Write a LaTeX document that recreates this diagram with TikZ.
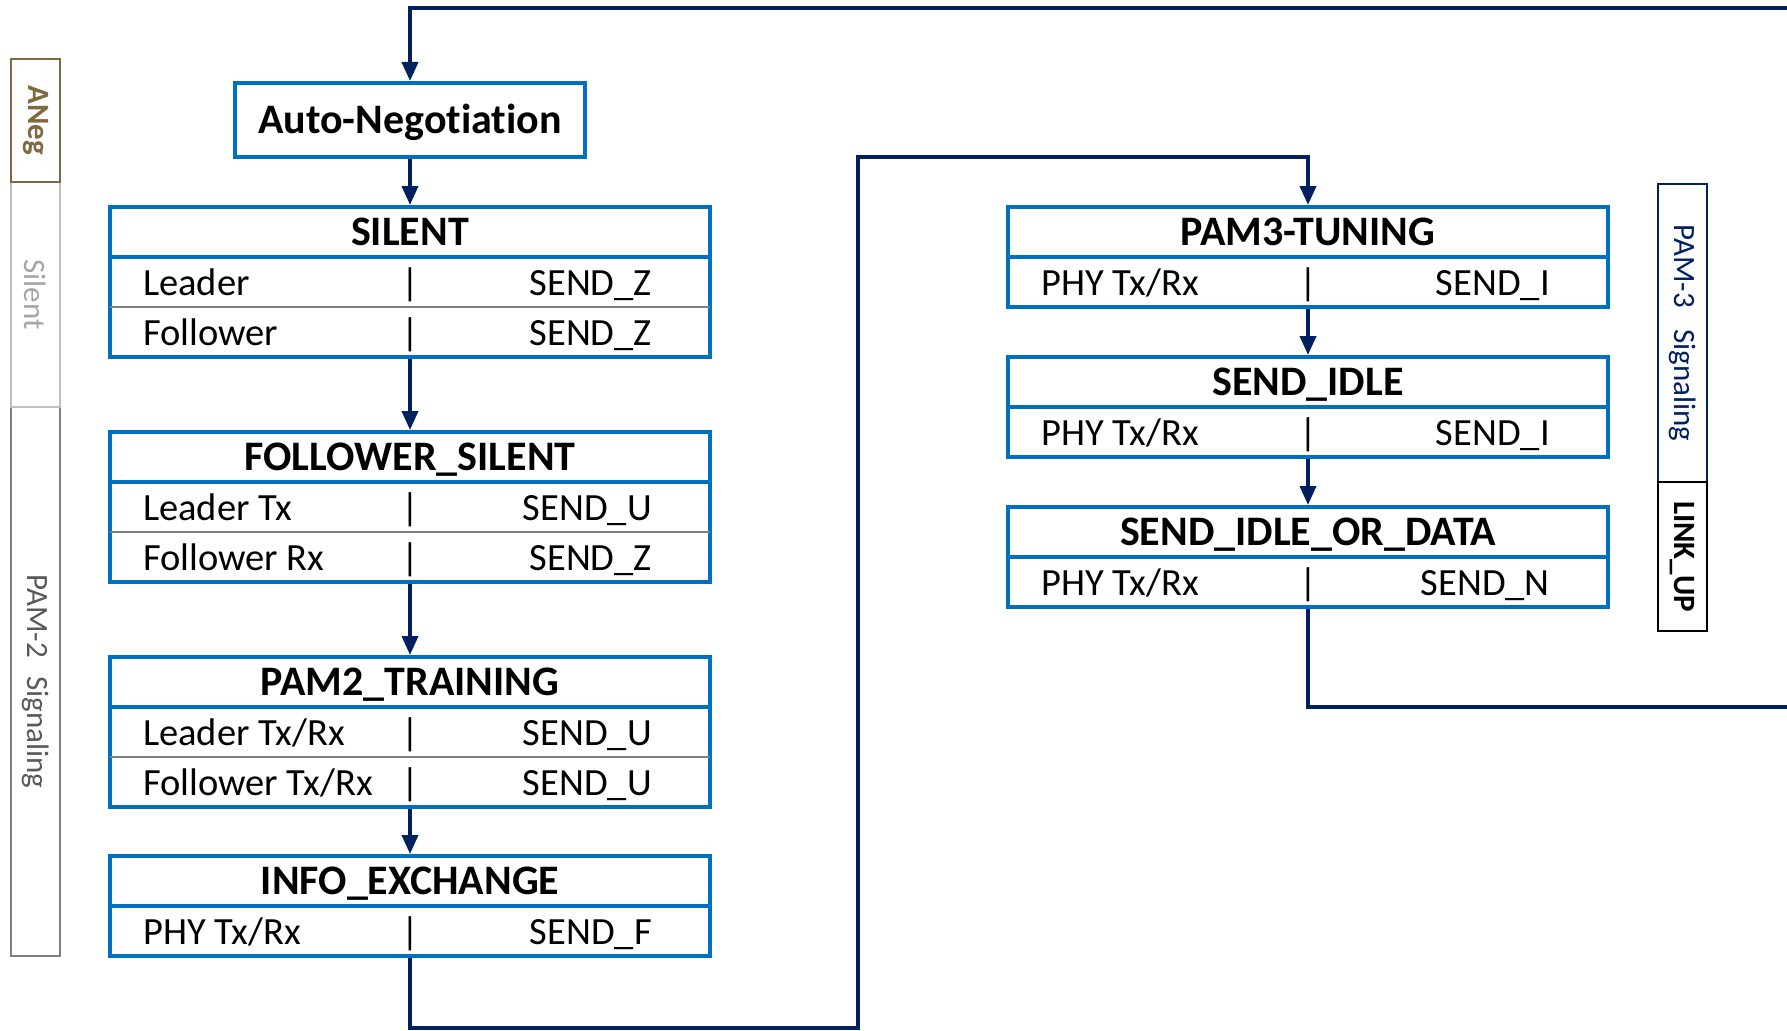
\documentclass[tikz,border=0pt]{standalone}
\usepackage{fontspec}
\setmainfont{Carlito}[Ligatures=NoCommon]
\usetikzlibrary{arrows.meta}
\definecolor{boxblue}{HTML}{0070C0}
\definecolor{navy}{HTML}{002060}
\definecolor{anegbrown}{HTML}{7F6A40}
\definecolor{silgray}{HTML}{A6A6A6}
\definecolor{silborder}{HTML}{BFBFBF}
\definecolor{pamtwotext}{HTML}{595959}
\definecolor{pamtwoborder}{HTML}{7F7F7F}
\newcommand\rowfont{\fontsize{38.5}{44}\selectfont}
\newcommand\hdrfont{\fontsize{42}{48}\selectfont\bfseries}
\newcommand\sidefont{\fontsize{31}{36}\selectfont}
\newcommand\srow[5]{%
  \node[rowtxt] (#1l) at (#2-267,#3) {#4};
  \node[septxt] (#1s) at (#2,#3) {|};
  \node[valtxt] (#1v) at (#2+242,#3) {#5};}
\begin{document}
\begin{tikzpicture}[x=1pt,y=-1pt,
  statebox/.style={draw=boxblue, line width=4pt, minimum width=600pt, inner sep=0pt},
  hdrline/.style={draw=boxblue, line width=4pt},
  rowline/.style={draw=pamtwoborder, line width=2pt},
  title/.style={font=\hdrfont, anchor=base, inner sep=0pt},
  rowtxt/.style={font=\rowfont, anchor=base west, inner sep=0pt},
  valtxt/.style={font=\rowfont, anchor=base east, inner sep=0pt},
  septxt/.style={font=\rowfont, anchor=base, inner sep=0pt},
  conn/.style={draw=navy, line width=3.8pt, -{Triangle[length=19pt,width=16pt]}},
  link/.style={draw=navy, line width=3.8pt},
  sidebar/.style={minimum width=49pt, line width=2pt, inner sep=0pt},
  sidetxt/.style={font=\sidefont, rotate=-90, inner sep=0pt}
]
\useasboundingbox (0,0) rectangle (1787,1030);

% ---- left column ----
\node[statebox, minimum width=350pt, minimum height=74pt] (aneg) at (410,120) {};
\node[title] (anegt) at (410,134) {Auto-Negotiation};

\node[statebox, minimum height=150pt] (silent) at (410,282) {};
\draw[hdrline] (110,257) -- (710,257);
\draw[rowline] (110,307) -- (710,307);
\node[title] (silentt) at (410,245.5) {SILENT};
\srow{silA}{410}{295}{Leader}{SEND\_Z}
\srow{silB}{410}{345}{Follower}{SEND\_Z}

\node[statebox, minimum height=150pt] (fsil) at (410,507) {};
\draw[hdrline] (110,482) -- (710,482);
\draw[rowline] (110,532) -- (710,532);
\node[title] (fsilt) at (410,470.5) {FOLLOWER\_SILENT};
\srow{fsA}{410}{520}{Leader Tx}{SEND\_U}
\srow{fsB}{410}{570}{Follower Rx}{SEND\_Z}

\node[statebox, minimum height=150pt] (pamtwo) at (410,732) {};
\draw[hdrline] (110,707) -- (710,707);
\draw[rowline] (110,757) -- (710,757);
\node[title] (pamtwot) at (410,695.5) {PAM2\_TRAINING};
\srow{ptA}{410}{745}{Leader Tx/Rx}{SEND\_U}
\srow{ptB}{410}{795}{Follower Tx/Rx}{SEND\_U}

\node[statebox, minimum height=100pt] (info) at (410,906) {};
\draw[hdrline] (110,906) -- (710,906);
\node[title] (infot) at (410,894.5) {INFO\_EXCHANGE};
\srow{ieA}{410}{944}{PHY Tx/Rx}{SEND\_F}

% ---- right column ----
\node[statebox, minimum height=100pt] (pamthree) at (1308,257) {};
\draw[hdrline] (1008,257) -- (1608,257);
\node[title] (pamthreet) at (1308,245.5) {PAM3-TUNING};
\srow{p3A}{1308}{295}{PHY Tx/Rx}{SEND\_I}

\node[statebox, minimum height=100pt] (sidle) at (1308,407) {};
\draw[hdrline] (1008,407) -- (1608,407);
\node[title] (sidlet) at (1308,395.5) {SEND\_IDLE};
\srow{siA}{1308}{445}{PHY Tx/Rx}{SEND\_I}

\node[statebox, minimum height=100pt] (siod) at (1308,557) {};
\draw[hdrline] (1008,557) -- (1608,557);
\node[title] (siodt) at (1308,545.5) {SEND\_IDLE\_OR\_DATA};
\srow{sdA}{1308}{595}{PHY Tx/Rx}{SEND\_N}

% ---- connectors ----
\coordinate (topR) at (1800,8);
\coordinate (botL) at (858,1028);
\coordinate (upR) at (858,157);
\coordinate (outR) at (1800,707);

\draw[conn] (topR) -| (aneg.north);
\draw[conn] (aneg.south) -- (silent.north);
\draw[conn] (silent.south) -- (fsil.north);
\draw[conn] (fsil.south) -- (pamtwo.north);
\draw[conn] (pamtwo.south) -- (info.north);
\draw[conn] (info.south) |- (botL) -- (upR) -| (pamthree.north);
\draw[conn] (pamthree.south) -- (sidle.north);
\draw[conn] (sidle.south) -- (siod.north);
\draw[link] (siod.south) |- (outR);

% ---- side bars ----
\node[sidebar, draw=pamtwoborder, minimum height=549pt] (pam2bar) at (35.5,681.5) {};
\node[sidetxt, text=pamtwotext] (pam2lbl) at (35.5,681.5) {PAM-2\hspace{0.6em}Signaling};
\node[sidebar, draw=silborder, minimum height=225pt] (silbar) at (35.5,294.5) {};
\node[sidetxt, text=silgray] (sillbl) at (35.5,294.5) {Silent};
\node[sidebar, draw=anegbrown, minimum height=123pt] (anegbar) at (35.5,120.5) {};
\node[sidetxt, text=anegbrown, font=\sidefont\bfseries] (aneglbl) at (35.5,120.5) {ANeg};

\node[sidebar, draw=navy, minimum height=298.5pt] (pam3bar) at (1682.5,333) {};
\node[sidetxt, text=navy] (pam3lbl) at (1682.5,333) {PAM-3\hspace{0.7em}Signaling};
\node[sidebar, draw=black, minimum height=149pt] (linkbar) at (1682.5,556.5) {};
\node[sidetxt, font=\sidefont\bfseries] (linklbl) at (1682.5,556.5) {LINK\_UP};
\end{tikzpicture}
\end{document}
